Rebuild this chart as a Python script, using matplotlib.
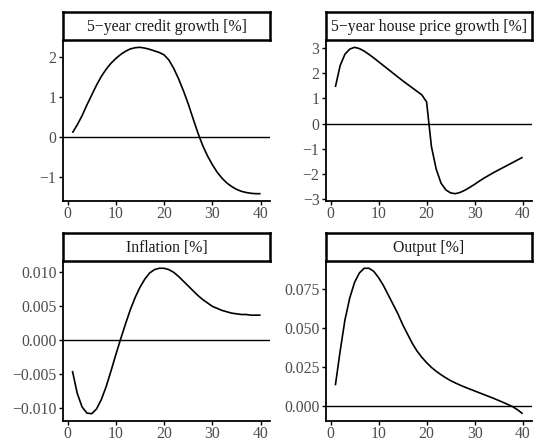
import numpy as np
import matplotlib
matplotlib.use('Agg')
import matplotlib.pyplot as plt

plt.rcParams['font.family'] = ['Liberation Serif', 'DejaVu Serif']

# === DATA ===
horizon = np.arange(1, 41)

credit_growth = [0.1, 0.3, 0.53, 0.8, 1.05, 1.3, 1.52, 1.7, 1.85, 1.97,
                 2.07, 2.15, 2.21, 2.24, 2.25, 2.23, 2.2, 2.16, 2.12, 2.06,
                 1.93, 1.72, 1.46, 1.16, 0.83, 0.46, 0.1, -0.22, -0.48, -0.7,
                 -0.89, -1.04, -1.16, -1.25, -1.32, -1.37, -1.4, -1.42, -1.43, -1.43]

house_price_growth = [1.45, 2.3, 2.75, 2.95, 3.02, 2.97, 2.87, 2.74, 2.6, 2.45,
                      2.3, 2.15, 2.0, 1.85, 1.7, 1.56, 1.42, 1.28, 1.14, 0.86,
                      -0.9, -1.8, -2.35, -2.62, -2.74, -2.77, -2.72, -2.63, -2.52, -2.4,
                      -2.27, -2.15, -2.04, -1.93, -1.83, -1.73, -1.63, -1.53, -1.43, -1.33]

inflation = [-0.0045, -0.0078, -0.0098, -0.0107, -0.0108, -0.0101, -0.0087, -0.0068, -0.0045, -0.0021,
             0.0002, 0.0024, 0.0045, 0.0063, 0.0078, 0.0090, 0.0099, 0.0104, 0.0106, 0.0106,
             0.0104, 0.0100, 0.0094, 0.0087, 0.0080, 0.0073, 0.0066, 0.0060, 0.0055, 0.0050,
             0.0047, 0.0044, 0.0042, 0.0040, 0.0039, 0.0038, 0.0038, 0.0037, 0.0037, 0.0037]

output = [0.013, 0.035, 0.055, 0.069, 0.079, 0.085, 0.088, 0.088, 0.086, 0.082,
          0.077, 0.071, 0.065, 0.059, 0.052, 0.046, 0.040, 0.035, 0.031, 0.0275,
          0.0245, 0.022, 0.0198, 0.0178, 0.016, 0.0145, 0.0131, 0.0118, 0.0106, 0.0094,
          0.0082, 0.007, 0.0058, 0.0046, 0.0033, 0.002, 0.0006, -0.0008, -0.0028, -0.0052]

titles = ['5\u2212year credit growth [%]', '5\u2212year house price growth [%]',
          'Inflation [%]', 'Output [%]']
series = [credit_growth, house_price_growth, inflation, output]
y_ticks = [[-1, 0, 1, 2],
           [-3, -2, -1, 0, 1, 2, 3],
           [-0.010, -0.005, 0.000, 0.005, 0.010],
           [0.000, 0.025, 0.050, 0.075]]
y_fmt = ['{:g}', '{:g}', '{:.3f}', '{:.3f}']
x_ticks = [0, 10, 20, 30, 40]

# panel edges in pixels: columns (left, right), rows (panel top, panel bottom, strip top)
W, H = 534, 442
col_x = [(63, 270), (326, 532)]
row_y = [(40, 201, 12), (261, 421, 233)]

fig = plt.figure(figsize=(W / 100, H / 100), dpi=100)
grey = '#4D4D4D'

for i, (title, vals) in enumerate(zip(titles, series)):
    r, c = divmod(i, 2)
    x0, x1 = col_x[c]
    top, bot, strip_top = row_y[r]
    ax = fig.add_axes([x0 / W, 1 - bot / H, (x1 - x0) / W, (bot - top) / H])
    sax = fig.add_axes([x0 / W, 1 - top / H, (x1 - x0) / W, (top - strip_top) / H])

    ax.plot(horizon, vals, color='black', lw=1.2, solid_capstyle='butt')
    ax.axhline(0, color='black', lw=1.0)

    vmin, vmax = min(vals), max(vals)
    pad = (vmax - vmin) * 0.05
    ax.set_ylim(vmin - pad, vmax + pad)
    ax.set_xlim(1 - 39 * 0.05, 40 + 39 * 0.05)
    ax.set_xticks(x_ticks)
    ax.set_xticklabels([str(t) for t in x_ticks])
    ax.set_yticks(y_ticks[i])
    ax.set_yticklabels([y_fmt[i].format(v).replace('-', '\u2212') for v in y_ticks[i]])

    for side in ['top', 'right']:
        ax.spines[side].set_visible(False)
    for side in ['left', 'bottom']:
        ax.spines[side].set_linewidth(1.3)
        ax.spines[side].set_color('black')
    ax.tick_params(direction='out', length=3.2, width=1.0, color='black',
                   labelcolor=grey, labelsize=11.3, pad=1.5)
    ax.tick_params(axis='x', pad=0.3)

    sax.set_xticks([])
    sax.set_yticks([])
    sax.set_facecolor('white')
    for sp in sax.spines.values():
        sp.set_linewidth(1.8)
        sp.set_color('black')
    sax.text(0.5, 0.45, title, ha='center', va='center', fontsize=11.3,
             color='#1A1A1A', transform=sax.transAxes)

fig.savefig('out.png', dpi=100)
